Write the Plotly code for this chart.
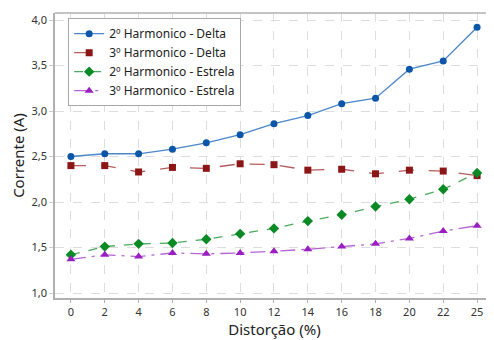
import plotly.graph_objects as go

distorcao = ["0", "2", "4", "6", "8", "10", "12", "14", "16", "18", "20", "22", "25"]
h2_delta = [2.50, 2.53, 2.53, 2.58, 2.65, 2.74, 2.86, 2.95, 3.08, 3.14, 3.46, 3.55, 3.92]
h3_delta = [2.40, 2.40, 2.33, 2.38, 2.37, 2.42, 2.41, 2.35, 2.36, 2.31, 2.35, 2.34, 2.29]
h2_estrela = [1.42, 1.51, 1.54, 1.55, 1.59, 1.65, 1.71, 1.79, 1.86, 1.95, 2.03, 2.14, 2.32]
h3_estrela = [1.37, 1.42, 1.40, 1.44, 1.43, 1.44, 1.46, 1.48, 1.51, 1.54, 1.60, 1.68, 1.74]
y_ticks = [1.0, 1.5, 2.0, 2.5, 3.0, 3.5, 4.0]

series = [
    ("2º Harmonico - Delta", h2_delta, "#0b56a8", "#4a86c8", "solid", "circle", 7),
    ("3º Harmonico - Delta", h3_delta, "#8c1515", "#b55c5c", "longdash", "square", 7),
    ("2º Harmonico - Estrela", h2_estrela, "#0a8a25", "#4aab5c", "dash", "diamond", 8),
    ("3º Harmonico - Estrela", h3_estrela, "#9a1fc2", "#b564d6", "longdashdot", "triangle-up", 8),
]

fig = go.Figure()
for name, vals, mcol, lcol, dash, sym, size in series:
    fig.add_trace(go.Scatter(
        x=distorcao, y=vals, name=name, mode="lines+markers",
        line=dict(color=lcol, width=1.3, dash=dash),
        marker=dict(color=mcol, symbol=sym, size=size),
    ))

font_family = "Noto Sans, Open Sans, sans-serif"
fig.update_layout(
    width=486, height=332,
    margin=dict(l=47, r=0, t=5, b=42, autoexpand=False),
    paper_bgcolor="white", plot_bgcolor="white",
    separators=",.",
    font=dict(family=font_family, color="#333333", size=11),
    showlegend=True,
    legend=dict(
        x=0.03, y=0.982, xanchor="left", yanchor="top",
        bgcolor="white", bordercolor="#a8a8a8", borderwidth=1,
        font=dict(size=12, color="#222222"),
        tracegroupgap=0, itemwidth=30,
    ),
)
fig.update_xaxes(
    type="category", range=[-0.47, 12.5],
    showgrid=True, gridcolor="#dddddd", griddash="dash", gridwidth=1,
    showline=True, linecolor="#b0b0b0", linewidth=1.5, mirror=False,
    ticks="outside", ticklen=3, tickcolor="#b0b0b0",
    tickfont=dict(size=11, color="#333333"),
    title=dict(text="Distorção (%)", font=dict(size=15, color="#222222"), standoff=6),
    zeroline=False, automargin=False,
)
fig.update_yaxes(
    range=[0.945, 4.077], tickvals=y_ticks, tickformat=".1f",
    showgrid=True, gridcolor="#dddddd", griddash="dash", gridwidth=1,
    showline=True, linecolor="#b0b0b0", linewidth=1.5,
    ticks="outside", ticklen=4, tickcolor="#cccccc",
    tickfont=dict(size=11, color="#333333"),
    title=dict(text="Corrente (A)", font=dict(size=15, color="#222222"), standoff=6),
    zeroline=False, automargin=False,
)
fig.add_shape(type="line", xref="paper", yref="paper", x0=0, x1=1, y0=1, y1=1,
              line=dict(color="#b0b0b0", width=1.5))

fig.write_html("out.html")
